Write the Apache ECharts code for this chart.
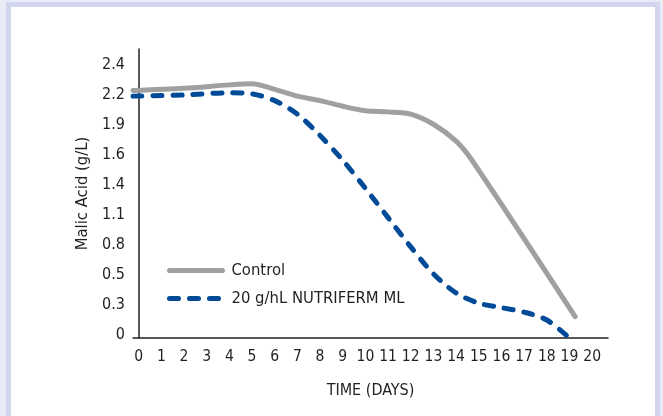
<!DOCTYPE html>
<html>
<head>
<meta charset="utf-8">
<script src="https://cdn.jsdelivr.net/npm/echarts@6/dist/echarts.min.js"></script>
<style>
  html, body { margin: 0; padding: 0; background: #e9ecf7; overflow: hidden; }
  #frame { position: absolute; left: 6px; top: 2px; width: 654px; height: 420px;
           box-sizing: border-box; border: 5px solid #d1d5ed; background: #fff; }
  #chart { position: absolute; left: 0; top: 0; width: 663px; height: 416px; }
</style>
</head>
<body>
<div id="frame"></div>
<div id="chart"></div>
<script>
// days and malic acid values (g/L)
const controlDays = [-0.25, 2, 4, 5, 6, 7, 8, 9, 10, 11, 12, 13, 14, 14.7, 19.25]
const controlVals = [2.20, 2.22, 2.25, 2.26, 2.21, 2.15, 2.11, 2.06, 2.02, 2.01, 1.99, 1.90, 1.75, 1.58, 0.19]

const nutriDays = [-0.25, 2, 4, 5, 6, 7, 8, 9, 10, 11, 12, 13, 14, 15, 16, 17, 18, 19]
const nutriVals = [2.15, 2.16, 2.18, 2.17, 2.11, 1.99, 1.80, 1.58, 1.33, 1.07, 0.81, 0.57, 0.40, 0.31, 0.27, 0.23, 0.16, 0.0]

const xTicks = [0, 1, 2, 3, 4, 5, 6, 7, 8, 9, 10, 11, 12, 13, 14, 15, 16, 17, 18, 19, 20]
const yLabels = ['0', '0.3', '0.5', '0.8', '1.1', '1.4', '1.6', '1.9', '2.2', '2.4']
const yStep = 2.4 / 9

const font = "'DejaVu Sans Condensed', sans-serif"

const chart = echarts.init(document.getElementById('chart'))
chart.setOption({
  animation: false,
  grid: { left: 133, right: 55, top: 49, bottom: 78, containLabel: false },
  legend: {
    orient: 'vertical',
    left: 162,
    top: 257,
    itemWidth: 53,
    itemHeight: 14,
    itemGap: 11,
    itemStyle: { opacity: 0 },
    lineStyle: { width: 5, cap: 'round' },
    textStyle: { fontFamily: font, fontSize: 16.5, lineHeight: 14, color: '#231f20', padding: [0, 0, 0, 4] },
    data: ['Control', '20 g/hL NUTRIFERM ML']
  },
  xAxis: {
    type: 'value',
    min: -0.25,
    max: 20.7,
    name: 'TIME (DAYS)',
    nameLocation: 'middle',
    nameGap: 45,
    nameTextStyle: { fontFamily: font, fontSize: 16, color: '#231f20' },
    axisLine: { show: true, lineStyle: { color: '#231f20', width: 1.5 } },
    axisTick: { show: false },
    splitLine: { show: false },
    axisLabel: {
      customValues: xTicks,
      margin: 11,
      fontFamily: font,
      fontSize: 15.5,
      color: '#231f20'
    }
  },
  yAxis: {
    type: 'value',
    min: 0,
    max: 289 / 112.5,
    name: 'Malic Acid (g/L)',
    nameLocation: 'middle',
    nameRotate: 90,
    nameGap: 42,
    nameTextStyle: { fontFamily: font, fontSize: 16.5, color: '#231f20' },
    axisLine: { show: true, lineStyle: { color: '#231f20', width: 1.5 } },
    axisTick: { show: false },
    splitLine: { show: false },
    axisLabel: {
      customValues: yLabels.map((l, i) => i * yStep),
      formatter: v => yLabels[Math.round(v / yStep)],
      margin: 8,
      verticalAlign: 'bottom',
      lineHeight: 6,
      fontFamily: font,
      fontSize: 16,
      color: '#231f20'
    }
  },
  series: [
    {
      name: 'Control',
      type: 'line',
      smooth: 0.3,
      symbol: 'none',
      color: '#a0a0a0',
      lineStyle: { color: '#a0a0a0', width: 5, cap: 'round' },
      data: controlDays.map((d, i) => [d, controlVals[i]])
    },
    {
      name: '20 g/hL NUTRIFERM ML',
      type: 'line',
      smooth: 0.3,
      symbol: 'none',
      color: '#004a97',
      lineStyle: { color: '#004a97', width: 5, type: [9, 11], cap: 'round' },
      data: nutriDays.map((d, i) => [d, nutriVals[i]])
    }
  ]
})
</script>
</body>
</html>
